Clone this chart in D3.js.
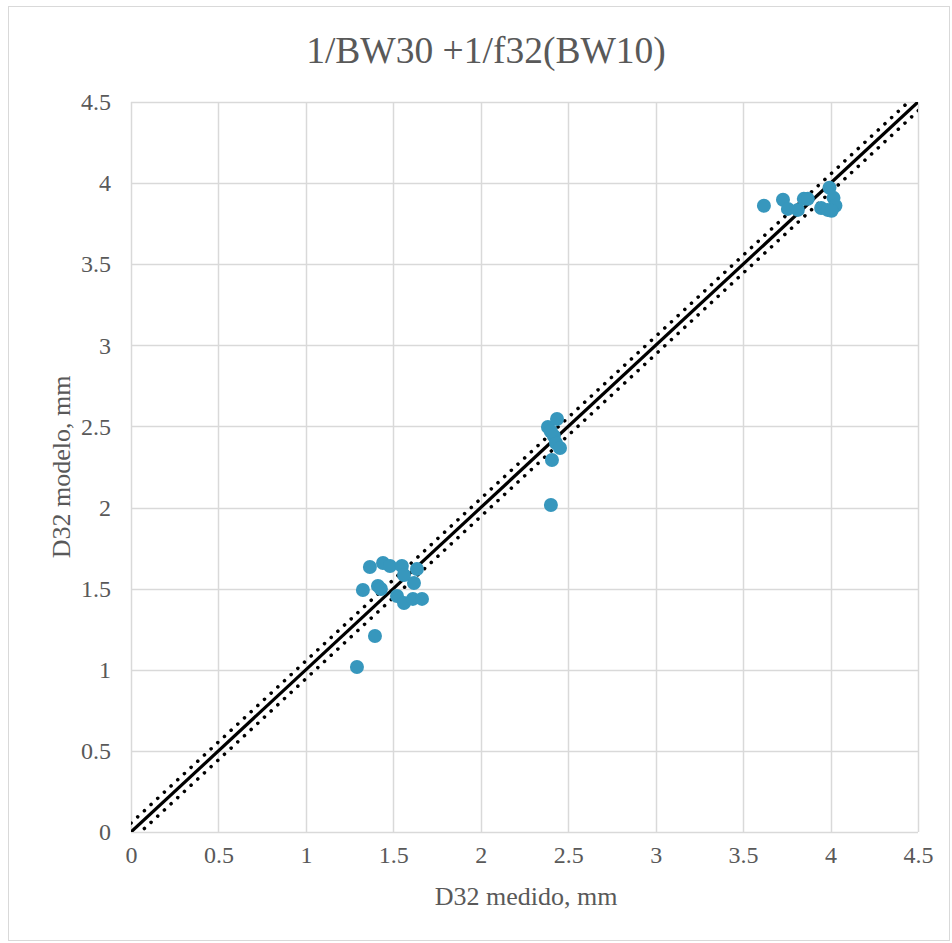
<!DOCTYPE html>
<html>
<head>
<meta charset="utf-8">
<script src="https://cdn.jsdelivr.net/npm/d3@7"></script>
<style>
  body { margin: 0; background: #fff; }
  svg { display: block; }
</style>
</head>
<body>
<script>
const chartTitle = "1/BW30 +1/f32(BW10)";
const xTitle = "D32 medido, mm";
const yTitle = "D32 modelo, mm";
const xTicks = [0, 0.5, 1, 1.5, 2, 2.5, 3, 3.5, 4, 4.5];
const yTicks = [0, 0.5, 1, 1.5, 2, 2.5, 3, 3.5, 4, 4.5];

const measured = [
  1.292, 1.395, 1.326, 1.366, 1.441, 1.481, 1.412, 1.429, 1.549, 1.561, 1.635, 1.618, 1.521, 1.561, 1.612, 1.664,
  2.401, 2.407, 2.384, 2.436, 2.418, 2.430, 2.453, 2.400,
  3.619, 3.728, 3.756, 3.813, 3.847, 3.870, 3.946, 3.983, 3.994, 4.017, 4.028, 4.006
];
const modeled = [
  1.017, 1.208, 1.492, 1.634, 1.658, 1.640, 1.517, 1.498, 1.640, 1.584, 1.621, 1.535, 1.455, 1.412, 1.437, 1.437,
  2.016, 2.293, 2.497, 2.546, 2.441, 2.398, 2.367, 2.470,
  3.860, 3.897, 3.841, 3.835, 3.903, 3.903, 3.847, 3.835, 3.971, 3.909, 3.860, 3.829
];
const refSlope = 1.0;
const bandOffset = 0.055;

const FONT = '"Liberation Serif", "Times New Roman", serif';
const TXT = "#595959";

const W = 952, H = 943;
const margin = { left: 131, right: W - 918, top: 102, bottom: H - 832 };

const svg = d3.select("body").append("svg").attr("width", W).attr("height", H);

svg.append("rect").attr("x", 8.5).attr("y", 6.5).attr("width", 941).attr("height", 934)
  .attr("fill", "#fff").attr("stroke", "#d9d9d9").attr("stroke-width", 1);

const x = d3.scaleLinear().domain([0, 4.5]).range([margin.left, W - margin.right]);
const y = d3.scaleLinear().domain([0, 4.5]).range([H - margin.bottom, margin.top]);

// gridlines
const g = svg.append("g");
g.selectAll("line.v").data(xTicks).enter().append("line")
  .attr("x1", d => Math.round(x(d)) + 0.5).attr("x2", d => Math.round(x(d)) + 0.5)
  .attr("y1", y(0)).attr("y2", y(4.5))
  .attr("stroke", "#d9d9d9").attr("stroke-width", 1.5);
g.selectAll("line.h").data(yTicks).enter().append("line")
  .attr("y1", d => Math.round(y(d)) + 0.5).attr("y2", d => Math.round(y(d)) + 0.5)
  .attr("x1", x(0)).attr("x2", x(4.5))
  .attr("stroke", "#d9d9d9").attr("stroke-width", 1.5);

// axes labels via d3 axes
const xAxis = d3.axisBottom(x).tickValues(xTicks).tickSize(0).tickPadding(14).tickFormat(d3.format("~g"));
const yAxis = d3.axisLeft(y).tickValues(yTicks).tickSize(0).tickPadding(20).tickFormat(d3.format("~g"));
const xa = svg.append("g").attr("transform", `translate(0,${y(0)})`).call(xAxis);
const ya = svg.append("g").attr("transform", `translate(${x(0)},0)`).call(yAxis);
[xa, ya].forEach(a => {
  a.attr("font-family", null).attr("font-size", null);
  a.select(".domain").remove();
  a.selectAll("text").style("font-family", FONT).style("font-size", "24px").style("fill", TXT);
});

// clip
svg.append("clipPath").attr("id", "plotclip").append("rect")
  .attr("x", x(0)).attr("y", y(4.5)).attr("width", x(4.5) - x(0)).attr("height", y(0) - y(4.5));

const lineGen = d3.line().x(d => x(d[0])).y(d => y(d[1]));
const lines = svg.append("g").attr("clip-path", "url(#plotclip)");
const span = [0, 4.6];
lines.append("path").datum(span.map(v => [v, v * refSlope + bandOffset])).attr("d", lineGen)
  .attr("fill", "none").attr("stroke", "#000").attr("stroke-width", 3.5)
  .attr("stroke-linecap", "round").attr("stroke-dasharray", "0.1 9");
lines.append("path").datum(span.map(v => [v, v * refSlope - bandOffset])).attr("d", lineGen)
  .attr("fill", "none").attr("stroke", "#000").attr("stroke-width", 3.5)
  .attr("stroke-linecap", "round").attr("stroke-dasharray", "0.1 9");
lines.append("path").datum(span.map(v => [v, v * refSlope])).attr("d", lineGen)
  .attr("fill", "none").attr("stroke", "#000").attr("stroke-width", 3.2);

// points
const pts = measured.map((m, i) => [m, modeled[i]]);
svg.append("g").selectAll("circle").data(pts).enter().append("circle")
  .attr("cx", d => x(d[0])).attr("cy", d => y(d[1])).attr("r", 7)
  .attr("fill", "#3797bd");

// titles
svg.append("text").attr("x", 486).attr("y", 63).attr("text-anchor", "middle")
  .style("font-family", FONT).style("fill", TXT).style("font-size", "37.5px").text(chartTitle);
svg.append("text").attr("x", 526).attr("y", 905).attr("text-anchor", "middle")
  .style("font-family", FONT).style("fill", TXT).style("font-size", "26px").text(xTitle);
svg.append("text").attr("transform", `translate(70,467) rotate(-90)`).attr("text-anchor", "middle")
  .style("font-family", FONT).style("fill", TXT).style("font-size", "26px").text(yTitle);
</script>
</body>
</html>
